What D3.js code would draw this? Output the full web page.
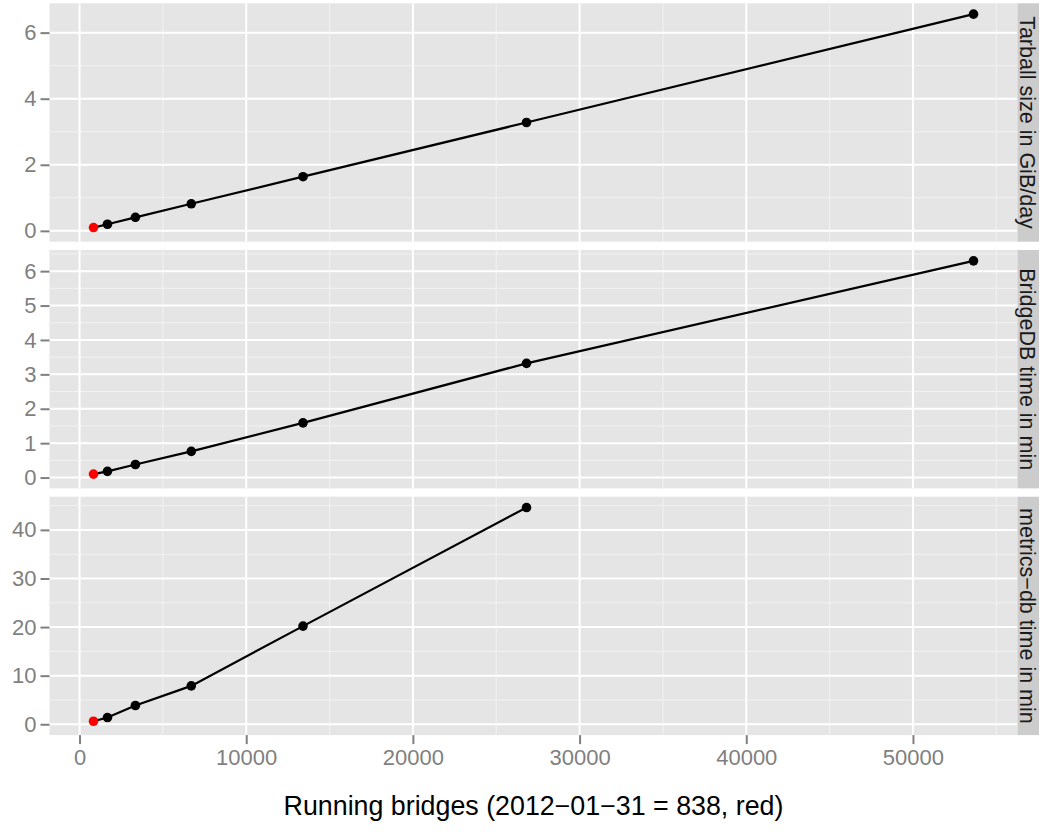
<!DOCTYPE html>
<html>
<head>
    <meta charset="utf-8"/>
    <title>Scaling bridges</title>
    <script src="https://d3js.org/d3.v7.min.js"></script>
</head>
<style>
    body { margin: 0; background: #fff; }
    svg text { font-family: "Liberation Sans", Arial, sans-serif; }
    .panel-bg { fill: #e5e5e5; }
    .grid-major { stroke: #fff; stroke-width: 2px; }
    .grid-minor { stroke: #f2f2f2; stroke-width: 1px; }
    .tick-mark { stroke: #7f7f7f; stroke-width: 2px; }
    .tick-label { fill: #7f7f7f; font-size: 22px; }
    .strip { fill: #cccccc; }
    .strip-text { fill: #1a1a1a; font-size: 21.5px; }
    .series { fill: none; stroke: #000; stroke-width: 2.2px; }
</style>
<body>
    <div id="chart"></div>
</body>
<script type="text/javascript">
    // running bridges (x), first one is the 2012-01-31 count
    var bridges = [838, 1676, 3352, 6704, 13408, 26816, 53632];
    var tarballGiB = [0.10, 0.20, 0.41, 0.82, 1.64, 3.28, 6.56];
    var bridgedbMin = [0.10, 0.18, 0.38, 0.76, 1.59, 3.32, 6.30];
    var metricsDbMin = [0.62, 1.38, 3.86, 7.90, 20.2, 44.6];

    var facetNames = ["Tarball size in GiB/day", "BridgeDB time in min", "metrics\u2212db time in min"];
    var xTicks = [0, 10000, 20000, 30000, 40000, 50000];
    var yTicks1 = [0, 2, 4, 6];
    var yTicks2 = [0, 1, 2, 3, 4, 5, 6];
    var yTicks3 = [0, 10, 20, 30, 40];
    var xTitle = "Running bridges (2012\u221201\u221231 = 838, red)";

    var width = 1039, height = 836;
    var left = 49.5, right = 1017.5;
    var panelTops = [3.3, 250, 496.7], panelH = 238.4;

    var svg = d3.select("#chart").append("svg")
        .attr("width", width)
        .attr("height", height);

    function expand(lo, hi){
        var pad = (hi - lo) * 0.05;
        return [lo - pad, hi + pad];
    }

    var x = d3.scaleLinear()
        .domain(expand(d3.min(bridges), d3.max(bridges)))
        .range([left, right]);

    function minors(ticks){
        var step = ticks[1] - ticks[0], out = [];
        for (var i = -1; i < ticks.length; i++) out.push(ticks[0] + step * (i + 0.5));
        return out;
    }

    function styleAxis(sel){
        sel.select(".domain").remove();
        sel.selectAll("line").attr("class", "tick-mark").attr("stroke", null);
        sel.selectAll("text").attr("class", "tick-label").attr("fill", null);
        sel.attr("font-family", null).attr("font-size", null);
    }

    var panels = [
        {name: facetNames[0], values: tarballGiB, ticks: yTicks1},
        {name: facetNames[1], values: bridgedbMin, ticks: yTicks2},
        {name: facetNames[2], values: metricsDbMin, ticks: yTicks3}
    ];

    panels.forEach(function(p, i){
        var top = panelTops[i], bottom = top + panelH;
        var y = d3.scaleLinear()
            .domain(expand(0, d3.max(p.values)))
            .range([bottom, top]);
        var g = svg.append("g");

        g.append("rect").attr("class", "panel-bg")
            .attr("x", left).attr("y", top)
            .attr("width", right - left).attr("height", panelH);

        var xMinor = minors(xTicks.concat([60000])).filter(function(v){ return x(v) > left && x(v) < right; });
        var yMinor = minors(p.ticks.concat([p.ticks[p.ticks.length-1] + p.ticks[1] - p.ticks[0]]))
            .filter(function(v){ return y(v) > top && y(v) < bottom; });

        g.selectAll(".ymin").data(yMinor).enter().append("line")
            .attr("class", "grid-minor")
            .attr("x1", left).attr("x2", right)
            .attr("y1", function(d){ return y(d); }).attr("y2", function(d){ return y(d); });
        g.selectAll(".xmin").data(xMinor).enter().append("line")
            .attr("class", "grid-minor")
            .attr("y1", top).attr("y2", bottom)
            .attr("x1", function(d){ return x(d); }).attr("x2", function(d){ return x(d); });
        g.selectAll(".ymaj").data(p.ticks).enter().append("line")
            .attr("class", "grid-major")
            .attr("x1", left).attr("x2", right)
            .attr("y1", function(d){ return y(d); }).attr("y2", function(d){ return y(d); });
        g.selectAll(".xmaj").data(xTicks).enter().append("line")
            .attr("class", "grid-major")
            .attr("y1", top).attr("y2", bottom)
            .attr("x1", function(d){ return x(d); }).attr("x2", function(d){ return x(d); });

        // y axis
        var yAxis = d3.axisLeft(y).tickValues(p.ticks).tickSize(9).tickPadding(4)
            .tickFormat(d3.format("d"));
        svg.append("g").attr("transform", "translate(" + left + ",0)").call(yAxis).call(styleAxis);

        // strip
        g.append("rect").attr("class", "strip")
            .attr("x", right).attr("y", top)
            .attr("width", width - right + 5).attr("height", panelH);
        g.append("text").attr("class", "strip-text")
            .attr("text-anchor", "middle")
            .attr("dominant-baseline", "central")
            .attr("transform", "translate(" + (right + 9.5) + "," + (top + panelH / 2) + ") rotate(90)")
            .text(p.name);

        // series
        var pts = p.values.map(function(v, j){ return [bridges[j], v]; });
        var line = d3.line().x(function(d){ return x(d[0]); }).y(function(d){ return y(d[1]); });
        g.append("path").attr("class", "series").attr("d", line(pts));
        g.selectAll(".pt").data(pts).enter().append("circle")
            .attr("cx", function(d){ return x(d[0]); })
            .attr("cy", function(d){ return y(d[1]); })
            .attr("r", 4.8)
            .attr("fill", function(d, j){ return j === 0 ? "#ff0000" : "#000"; });

        if (i === panels.length - 1){
            var xAxis = d3.axisBottom(x).tickValues(xTicks).tickSize(9).tickPadding(5)
                .tickFormat(d3.format("d"));
            svg.append("g").attr("transform", "translate(0," + bottom + ")").call(xAxis).call(styleAxis);
        }
    });

    svg.append("text")
        .attr("x", (left + right) / 2)
        .attr("y", 806)
        .attr("text-anchor", "middle")
        .attr("dominant-baseline", "central")
        .style("font-size", "26.8px")
        .style("fill", "#000")
        .text(xTitle);
</script>
</html>
